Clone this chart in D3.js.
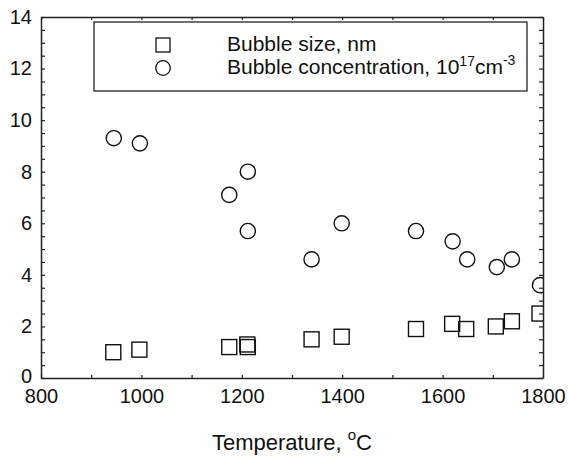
<!DOCTYPE html>
<html>
<head>
<meta charset="utf-8">
<script src="https://cdn.jsdelivr.net/npm/d3@7"></script>
<style>
  body { margin: 0; background: #fff; }
  text { font-family: "Liberation Sans", Arial, sans-serif; fill: #111; }
  .axis path, .axis line { stroke: #222; }
</style>
</head>
<body>
<div id="chart"></div>
<script>
// measured temperatures (C) and values
var sizeTemps = [944, 996, 1175, 1211, 1212, 1339, 1399, 1547, 1619, 1647, 1706, 1738, 1793];
var sizeValues = [1.0, 1.1, 1.2, 1.3, 1.2, 1.5, 1.6, 1.9, 2.1, 1.9, 2.0, 2.2, 2.5];

var concTemps = [945, 997, 1175, 1212, 1212, 1339, 1399, 1547, 1620, 1649, 1708, 1738, 1794];
var concValues = [9.3, 9.1, 7.1, 8.0, 5.7, 4.6, 6.0, 5.7, 5.3, 4.6, 4.3, 4.6, 3.6];

var xTicks = [800, 1000, 1200, 1400, 1600, 1800];
var yTicks = [0, 2, 4, 6, 8, 10, 12, 14];

var svgWidth = 568;
var svgHeight = 456;

var svg = d3.select("#chart")
  .append("svg")
  .attr("width", svgWidth)
  .attr("height", svgHeight);

var x = d3.scaleLinear().domain([800, 1800]).range([41, 543]);
var y = d3.scaleLinear().domain([0, 14]).range([378, 17]);

// minor ticks every 100 C and every 0.5 units
var xMinor = d3.range(800, 1801, 100);
var yMinor = d3.range(0, 14.01, 0.5);

// bottom axis with labels
svg.append("g")
  .attr("class", "axis")
  .attr("transform", "translate(0,378)")
  .call(d3.axisBottom(x).tickValues(xMinor).tickSizeInner(-3).tickSizeOuter(0).tickPadding(11)
    .tickFormat(d => xTicks.includes(d) ? d : ""))
  .call(g => g.selectAll("text").style("font-size", "20px"));

// left axis with labels
svg.append("g")
  .attr("class", "axis")
  .attr("transform", "translate(41,0)")
  .call(d3.axisLeft(y).tickValues(yMinor).tickSizeInner(-4).tickSizeOuter(0).tickPadding(9)
    .tickFormat(d => yTicks.includes(d) ? d : ""))
  .call(g => g.selectAll("text").style("font-size", "20px"))
  .call(g => g.selectAll("text").filter(d => d === 0).attr("dy", "0.2em"));

// top and right frame with inward ticks
svg.append("g")
  .attr("class", "axis")
  .attr("transform", "translate(0,17)")
  .call(d3.axisTop(x).tickValues(xMinor).tickSizeInner(-3).tickSizeOuter(0).tickFormat(""));

svg.append("g")
  .attr("class", "axis")
  .attr("transform", "translate(543,0)")
  .call(d3.axisRight(y).tickValues(yMinor).tickSizeInner(-4).tickSizeOuter(0).tickFormat(""));

svg.selectAll(".axis path").attr("stroke-width", 1.5);
svg.selectAll(".axis line").attr("stroke-width", 1.2);

// clip markers at the plot frame
svg.append("clipPath")
  .attr("id", "plot-clip")
  .append("rect")
  .attr("x", 41).attr("y", 17)
  .attr("width", 502).attr("height", 361);

var plot = svg.append("g").attr("clip-path", "url(#plot-clip)");

var sizeData = sizeTemps.map((t, i) => ({ t: t, v: sizeValues[i] }));
var concData = concTemps.map((t, i) => ({ t: t, v: concValues[i] }));

var half = 7.5;

plot.selectAll("rect.size")
  .data(sizeData)
  .enter()
  .append("rect")
  .attr("class", "size")
  .attr("x", d => x(d.t) - half)
  .attr("y", d => y(d.v) - half)
  .attr("width", half * 2)
  .attr("height", half * 2)
  .attr("fill", "none")
  .attr("stroke", "#111")
  .attr("stroke-width", 1.4);

plot.selectAll("circle.conc")
  .data(concData)
  .enter()
  .append("circle")
  .attr("class", "conc")
  .attr("cx", d => x(d.t))
  .attr("cy", d => y(d.v))
  .attr("r", 7.6)
  .attr("fill", "none")
  .attr("stroke", "#111")
  .attr("stroke-width", 1.4);

// legend
var legend = svg.append("g");

legend.append("rect")
  .attr("x", 94).attr("y", 22)
  .attr("width", 433).attr("height", 69)
  .attr("fill", "#fff")
  .attr("stroke", "#222")
  .attr("stroke-width", 1.3);

legend.append("rect")
  .attr("x", 156).attr("y", 38)
  .attr("width", 14).attr("height", 14)
  .attr("fill", "none").attr("stroke", "#111").attr("stroke-width", 1.3);

legend.append("circle")
  .attr("cx", 163).attr("cy", 68).attr("r", 7.3)
  .attr("fill", "none").attr("stroke", "#111").attr("stroke-width", 1.3);

legend.append("text")
  .attr("x", 227).attr("y", 51)
  .style("font-size", "21px")
  .text("Bubble size, nm");

var t2 = legend.append("text")
  .attr("x", 227).attr("y", 74)
  .style("font-size", "21px");
t2.append("tspan").text("Bubble concentration, 10");
t2.append("tspan").attr("dy", -8).style("font-size", "14px").text("17");
t2.append("tspan").attr("dy", 8).text("cm");
t2.append("tspan").attr("dy", -9).style("font-size", "14px").text("-3");

// x axis title
var title = svg.append("text")
  .attr("x", 292).attr("y", 450)
  .attr("text-anchor", "middle")
  .style("font-size", "22px");
title.append("tspan").text("Temperature, ");
title.append("tspan").attr("dy", -10).style("font-size", "15px").text("o");
title.append("tspan").attr("dy", 10).text("C");
</script>
</body>
</html>
